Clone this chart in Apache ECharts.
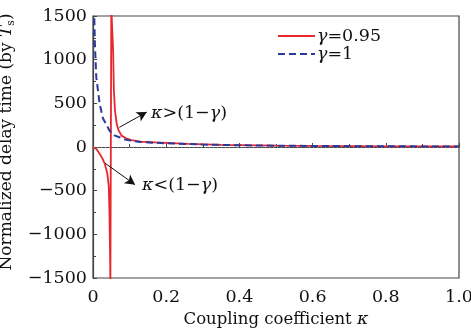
<!DOCTYPE html>
<html>
<head>
<meta charset="utf-8">
<script src="https://cdn.jsdelivr.net/npm/echarts@6/dist/echarts.min.js"></script>
<style>
  html, body { margin: 0; padding: 0; background: #fff; }
  #chart { width: 471px; height: 332px; }
</style>
</head>
<body>
<div id="chart"></div>
<script>
// gamma = 0.95: branch below the pole, the pole at kappa = 1 - gamma, branch above it
const kappaRed = [0, 0.005, 0.01, 0.018, 0.025, 0.032, 0.039, 0.043, 0.045, 0.046, 0.047, 0.0475,
  0.05, 0.05,
  0.053, 0.055, 0.057, 0.06, 0.065, 0.07, 0.078, 0.09, 0.105, 0.13, 0.17, 0.26, 0.35, 0.5, 0.6, 0.7, 0.8, 0.9, 1.0];
const delayRed = [0, -10, -25, -76, -125, -190, -300, -450, -750, -1060, -1350, -1600,
  -1600, 1600,
  1600, 1100, 650, 420, 260, 190, 130, 100, 80, 62, 52, 36, 25, 16, 12, 10, 8, 7, 6];

// gamma = 1
const kappaBlue = [0.003, 0.005, 0.009, 0.018, 0.027, 0.036, 0.045, 0.051, 0.06, 0.07, 0.087, 0.105, 0.124, 0.16, 0.215, 0.3, 0.4, 0.5, 0.6, 0.7, 0.8, 0.9, 1.0];
const delayBlue = [1600, 1200, 800, 500, 330, 260, 190, 155, 130, 115, 87, 72, 60, 50, 40, 28, 20, 15, 12, 10, 8, 7, 6];

const seriesNames = ['γ=0.95', 'γ=1'];

// annotation arrows, [from, to] in data units
const arrowAbove = [[0.072, 225], [0.147, 400]];
const arrowBelow = [[0.033, -185], [0.115, -432]];

const font = 'DejaVu Serif';
const ink = '#111';
const frame = '#444';
const fs = 17.5;

const chart = echarts.init(document.getElementById('chart'));

const zip = (xs, ys) => xs.map((x, i) => [x, ys[i]]);
const greek = { i: { fontStyle: 'italic', fontFamily: font, fontSize: fs, color: ink } };

chart.setOption({
  backgroundColor: '#fff',
  animation: false,
  grid: {
    left: 93, right: 12, top: 16, bottom: 54,
    outerBoundsMode: 'none',
    show: true, borderColor: frame, borderWidth: 1.2
  },
  legend: {
    orient: 'vertical',
    left: 272,
    top: 22,
    itemGap: 0,
    itemWidth: 37,
    itemHeight: 12,
    data: seriesNames,
    itemStyle: { opacity: 0 },
    formatter: n => '{i|γ}' + n.slice(1),
    textStyle: { fontFamily: font, fontSize: fs, color: ink, padding: [0, 0, 0, -3], rich: greek }
  },
  xAxis: {
    type: 'value',
    min: 0, max: 1, interval: 0.2,
    name: '{n|Coupling coefficient }{i|κ}',
    nameLocation: 'middle',
    nameGap: 27,
    nameTextStyle: { rich: { n: { fontFamily: font, fontSize: 16.5, color: ink }, i: greek.i } },
    axisLine: { lineStyle: { color: frame, width: 1.2 } },
    axisTick: { inside: true, length: 4, lineStyle: { color: frame } },
    minorTick: { show: true, splitNumber: 2, length: 3, lineStyle: { color: frame } },
    splitLine: { show: false },
    axisLabel: {
      margin: 10, fontFamily: font, fontSize: fs, color: ink,
      formatter: v => v === 0 ? '0' : v.toFixed(1)
    }
  },
  yAxis: {
    type: 'value',
    min: -1500, max: 1500, interval: 500,
    name: '{n|Normalized delay time (by }{t|T}{s|s}{n|)}',
    nameLocation: 'middle',
    nameGap: 67,
    nameTextStyle: {
      padding: [0, 0, 0, 10],
      rich: {
        n: { fontFamily: font, fontSize: 17, color: ink },
        t: { fontFamily: font, fontSize: 17, fontStyle: 'italic', color: ink },
        s: { fontFamily: font, fontSize: 11, color: ink, padding: [9, 0, 0, 0] }
      }
    },
    axisLine: { show: true, lineStyle: { color: frame, width: 1.2 } },
    axisTick: { inside: true, length: 4, lineStyle: { color: frame } },
    minorTick: { show: true, splitNumber: 2, length: 3, lineStyle: { color: frame } },
    splitLine: { show: false },
    axisLabel: {
      margin: 6, fontFamily: font, fontSize: fs, color: ink,
      formatter: v => String(v).replace('-', '\u2212')
    }
  },
  series: [
    {
      name: seriesNames[0],
      type: 'line',
      data: zip(kappaRed, delayRed),
      showSymbol: false,
      symbol: 'none',
      clip: true,
      lineStyle: { color: '#e8262c', width: 1.8 },
      itemStyle: { color: '#e8262c' },
      markLine: {
        silent: true,
        symbol: ['none', 'arrow'],
        symbolSize: [8, 10],
        label: { show: false },
        lineStyle: { color: ink, width: 1, type: 'solid' },
        data: [
          [{ coord: arrowAbove[0] }, { coord: arrowAbove[1] }],
          [{ coord: arrowBelow[0] }, { coord: arrowBelow[1] }]
        ]
      }
    },
    {
      name: seriesNames[1],
      type: 'line',
      data: zip(kappaBlue, delayBlue),
      showSymbol: false,
      symbol: 'none',
      clip: true,
      lineStyle: { color: '#2a3a9c', width: 2, type: [7, 4] },
      itemStyle: { color: '#2a3a9c' },
      markLine: {
        silent: true,
        symbol: 'none',
        label: { show: false },
        lineStyle: { color: '#888', width: 1, type: [1, 3] },
        data: [{ yAxis: 0 }]
      }
    }
  ],
  graphic: [
    {
      type: 'text', left: 151, top: 104,
      style: {
        text: '{i|κ}>(1\u2212{i|γ})',
        fontFamily: font, fontSize: fs, fill: ink, rich: greek
      }
    },
    {
      type: 'text', left: 142, top: 176,
      style: {
        text: '{i|κ}<(1\u2212{i|γ})',
        fontFamily: font, fontSize: fs, fill: ink, rich: greek
      }
    }
  ]
});
</script>
</body>
</html>
